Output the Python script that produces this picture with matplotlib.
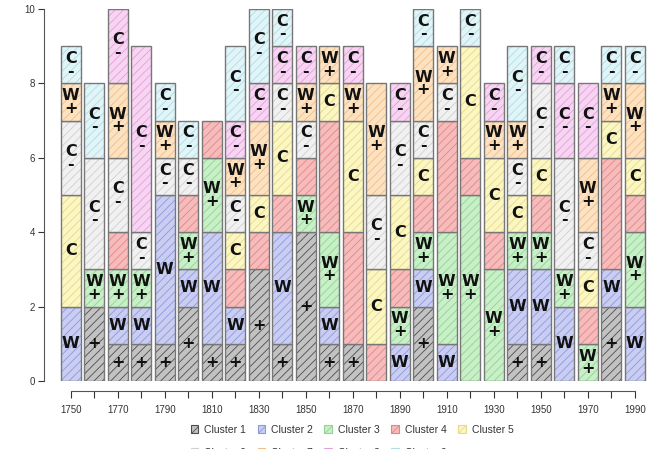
import matplotlib
matplotlib.use("Agg")
import matplotlib.pyplot as plt
from matplotlib.patches import Patch

plt.rcParams['font.family'] = ['Liberation Sans', 'DejaVu Sans']
plt.rcParams['hatch.linewidth'] = 0.6

# data: one bar per decade, runs of clusters from bottom to top
years = list(range(1750, 1991, 10))
bar_clusters = [
    [2, 5, 6, 7, 9],
    [1, 3, 6, 9],
    [1, 2, 3, 4, 6, 7, 8],
    [1, 2, 3, 6, 8],
    [1, 2, 6, 7, 9],
    [1, 2, 3, 4, 6, 9],
    [1, 2, 3, 4],
    [1, 2, 4, 5, 6, 7, 8, 9],
    [1, 4, 5, 7, 8, 9],
    [1, 2, 4, 5, 6, 8, 9],
    [1, 3, 4, 6, 7, 8],
    [1, 2, 3, 4, 5, 7],
    [1, 4, 5, 7, 8],
    [4, 5, 6, 7],
    [2, 3, 4, 5, 6, 8],
    [1, 2, 3, 4, 5, 6, 7, 9],
    [2, 3, 4, 6, 7],
    [3, 4, 5, 9],
    [3, 4, 5, 7, 8],
    [1, 2, 3, 5, 6, 7, 9],
    [1, 2, 3, 4, 5, 6, 8],
    [2, 3, 6, 8, 9],
    [3, 4, 5, 6, 7, 8],
    [1, 2, 4, 5, 7, 9],
    [2, 3, 4, 5, 7, 9],
]
bar_heights = [
    [2, 3, 2, 1, 1],
    [2, 1, 3, 2],
    [1, 1, 1, 1, 2, 2, 2],
    [1, 1, 1, 1, 5],
    [1, 4, 1, 1, 1],
    [2, 1, 1, 1, 1, 1],
    [1, 3, 2, 1],
    [1, 1, 1, 1, 1, 1, 1, 2],
    [3, 1, 1, 2, 1, 2],
    [1, 3, 1, 2, 1, 1, 1],
    [4, 1, 1, 1, 1, 1],
    [1, 1, 2, 3, 1, 1],
    [1, 3, 3, 1, 1],
    [1, 2, 2, 3],
    [1, 1, 1, 2, 2, 1],
    [2, 1, 1, 1, 1, 1, 2, 1],
    [1, 3, 3, 1, 1],
    [5, 1, 3, 1],
    [3, 1, 2, 1, 1],
    [1, 2, 1, 1, 1, 1, 2],
    [1, 2, 1, 1, 1, 2, 1],
    [2, 1, 3, 2, 1],
    [1, 1, 1, 1, 2, 2],
    [2, 1, 3, 1, 1, 1],
    [2, 2, 1, 1, 2, 1],
]
cluster_names = ['Cluster %d' % i for i in range(1, 10)]
cluster_labels = ['+', 'W', 'W\n+', '', 'C', 'C\n-', 'W\n+', 'C\n-', 'C\n-']
year_ticks = list(range(1750, 1991, 10))
year_ticklabels = [str(y) if (y - 1750) % 20 == 0 else '' for y in year_ticks]

# colours: pastel fill + darker hatch lines
fills = ['#c2c2c2', '#c9cdf2', '#c9efc9', '#f6bcbc', '#fbf6c2',
         '#f1f1f1', '#fde2c2', '#f7d5f2', '#e1f4f7']
hatches = ['#4d4d4d', '#8f98dd', '#8fd48f', '#e48585', '#e6da8a',
           '#cfcfcf', '#f0bd86', '#e2a0db', '#b0dde5']
edge = '#777777'

fig = plt.figure(figsize=(6.63, 4.49), dpi=100)
ax = fig.add_axes([50 / 663, 68 / 449, 605 / 663, 372 / 449])

width = 8.5
for year, clusters, heights in zip(years, bar_clusters, bar_heights):
    bottom = 0
    for c, h in zip(clusters, heights):
        ax.bar(year, h, width=width, bottom=bottom, color=fills[c - 1],
               edgecolor=hatches[c - 1], linewidth=0, hatch='////')
        ax.bar(year, h, width=width, bottom=bottom, fill=False,
               edgecolor=edge, linewidth=1.0)
        lab = cluster_labels[c - 1]
        if lab:
            ax.text(year, bottom + h / 2, lab, ha='center', va='center',
                    fontsize=11.5, fontweight='bold', color='#111111',
                    family='DejaVu Sans', linespacing=0.8)
        bottom += h

ax.set_xlim(1741.19, 1998.64)
ax.set_ylim(0, 10)
for s in ['top', 'right']:
    ax.spines[s].set_visible(False)
ax.spines['bottom'].set_position(('outward', 7))
ax.spines['left'].set_position(('outward', 4))
ax.spines['bottom'].set_bounds(1750, 1990)
ax.spines['left'].set_bounds(0, 10)
for s in ['bottom', 'left']:
    ax.spines[s].set_color('#555555')
    ax.spines[s].set_linewidth(0.8)
ax.set_xticks(year_ticks)
ax.set_xticklabels(year_ticklabels)
ax.set_yticks(range(0, 11, 2))
ax.tick_params(axis='both', labelsize=7, colors='#333333', width=0.8)
ax.tick_params(axis='x', length=5, pad=5)
ax.tick_params(axis='y', length=4, pad=2.5)

# legend, filled row by row (C1..C5 then C6..C9)
order = [0, 5, 1, 6, 2, 7, 3, 8, 4]
handles = [Patch(facecolor=fills[i], edgecolor=hatches[i], hatch='////',
                 linewidth=0.8) for i in order]
leg = fig.legend(handles, [cluster_names[i] for i in order], ncol=5,
                 loc='upper center', bbox_to_anchor=(0.531, 0.066),
                 frameon=False, fontsize=7.5, handlelength=0.75,
                 handleheight=0.75, handletextpad=0.55, columnspacing=1.1,
                 labelspacing=1.25, borderpad=0)
for t in leg.get_texts():
    t.set_color('#333333')

fig.savefig('out.png', dpi=100)
